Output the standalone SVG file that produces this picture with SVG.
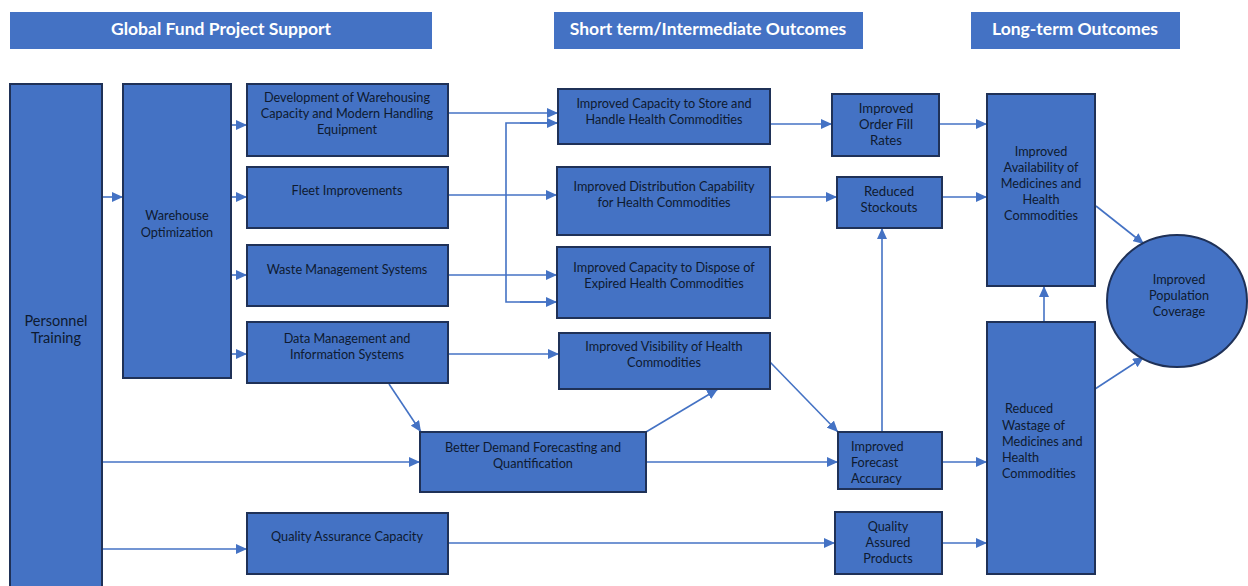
<svg xmlns="http://www.w3.org/2000/svg" width="1248" height="586" viewBox="0 0 1248 586">
<defs>
<marker id="ah" markerUnits="userSpaceOnUse" markerWidth="12" markerHeight="10" refX="11" refY="5" orient="auto">
<path d="M0,0 L11,5 L0,10 Z" fill="#4472C4"/>
</marker>
<style>
.hdr{fill:#4472C4}
.ht{font-family:Lato,"Liberation Sans",sans-serif;font-weight:bold;font-size:17.5px;fill:#fff;text-anchor:middle}
.box{fill:#4472C4;stroke:#1F3157;stroke-width:2}
.t{font-family:Lato,"Liberation Sans",sans-serif;font-size:12.7px;fill:#0E1A30;text-anchor:middle}
.tl{font-family:Lato,"Liberation Sans",sans-serif;font-size:12.7px;fill:#0E1A30}
.s{font-size:13.2px}
.big{font-size:14.5px}
.c{stroke:#4472C4;stroke-width:1.6;fill:none;marker-end:url(#ah)}
.cn{stroke:#4472C4;stroke-width:1.6;fill:none}
</style>
</defs>
<rect width="1248" height="586" fill="#fff"/>
<g id="headers">
<rect class="hdr" x="10" y="12" width="422" height="37"/>
<text class="ht" x="221" y="35">Global Fund Project Support</text>
<rect class="hdr" x="554" y="12" width="309" height="37"/>
<text class="ht" x="708" y="35">Short term/Intermediate Outcomes</text>
<rect class="hdr" x="971" y="12" width="209" height="37"/>
<text class="ht" x="1075" y="35">Long-term Outcomes</text>
</g>
<g id="connectors">
<line class="c" x1="102" y1="197" x2="123" y2="197"/>
<line class="c" x1="231" y1="125" x2="247" y2="125"/>
<line class="c" x1="231" y1="197" x2="247" y2="197"/>
<line class="c" x1="231" y1="275" x2="247" y2="275"/>
<line class="c" x1="231" y1="354" x2="247" y2="354"/>
<line class="c" x1="448" y1="113" x2="558" y2="113"/>
<polyline class="cn" points="557,123 506,123 506,302 557,302"/>
<line class="c" x1="520" y1="123" x2="558" y2="123"/>
<line class="c" x1="520" y1="302" x2="557" y2="302"/>
<line class="c" x1="448" y1="195" x2="557" y2="195"/>
<line class="c" x1="448" y1="275" x2="557" y2="275"/>
<line class="c" x1="448" y1="354" x2="559" y2="354"/>
<line class="c" x1="389" y1="384" x2="421" y2="432"/>
<line class="c" x1="102" y1="462" x2="420" y2="462"/>
<line class="c" x1="102" y1="549" x2="247" y2="549"/>
<line class="c" x1="646" y1="432" x2="718" y2="389"/>
<line class="c" x1="770" y1="362" x2="838" y2="432"/>
<line class="c" x1="646" y1="462" x2="838" y2="462"/>
<line class="c" x1="882" y1="432" x2="882" y2="228"/>
<line class="c" x1="448" y1="543" x2="835" y2="543"/>
<line class="c" x1="942" y1="462" x2="987" y2="462"/>
<line class="c" x1="942" y1="543" x2="987" y2="543"/>
<line class="c" x1="770" y1="124" x2="832" y2="124"/>
<line class="c" x1="939" y1="124" x2="987" y2="124"/>
<line class="c" x1="770" y1="197" x2="837" y2="197"/>
<line class="c" x1="942" y1="197" x2="987" y2="197"/>
<line class="c" x1="1044" y1="322" x2="1044" y2="286"/>
<line class="c" x1="1096" y1="206" x2="1144" y2="244"/>
<line class="c" x1="1095" y1="389" x2="1144" y2="357"/>
</g>
<g id="personnel">
<rect class="box" x="10" y="84" width="92" height="510"/>
<text class="t big" x="56" y="326">Personnel</text>
<text class="t big" x="56" y="343">Training</text>
</g>
<g id="warehouse">
<rect class="box" x="123" y="84" width="108" height="294"/>
<text class="t" x="177" y="220">Warehouse</text>
<text class="t" x="177" y="237">Optimization</text>
</g>
<g id="development">
<rect class="box" x="247" y="84" width="201" height="72"/>
<text class="t" x="347" y="102">Development of Warehousing</text>
<text class="t" x="347" y="118">Capacity and Modern Handling</text>
<text class="t" x="347" y="134">Equipment</text>
</g>
<g id="fleet">
<rect class="box" x="247" y="167" width="201" height="61"/>
<text class="t" x="347" y="195">Fleet Improvements</text>
</g>
<g id="waste">
<rect class="box" x="247" y="245" width="201" height="61"/>
<text class="t" x="347" y="274">Waste Management Systems</text>
</g>
<g id="data">
<rect class="box" x="247" y="322" width="201" height="61"/>
<text class="t" x="347" y="343">Data Management and</text>
<text class="t" x="347" y="359">Information Systems</text>
</g>
<g id="qa-capacity">
<rect class="box" x="247" y="513" width="201" height="61"/>
<text class="t" x="347" y="541">Quality Assurance Capacity</text>
</g>
<g id="demand">
<rect class="box" x="420" y="432" width="226" height="60"/>
<text class="t" x="533" y="452">Better Demand Forecasting and</text>
<text class="t" x="533" y="468">Quantification</text>
</g>
<g id="store">
<rect class="box" x="558" y="89" width="212" height="55"/>
<text class="t" x="664" y="108">Improved Capacity to Store and</text>
<text class="t" x="664" y="124">Handle Health Commodities</text>
</g>
<g id="distribution">
<rect class="box" x="557" y="167" width="213" height="68"/>
<text class="t" x="664" y="191">Improved Distribution Capability</text>
<text class="t" x="664" y="207">for Health Commodities</text>
</g>
<g id="dispose">
<rect class="box" x="557" y="247" width="213" height="71"/>
<text class="t" x="664" y="272">Improved Capacity to Dispose of</text>
<text class="t" x="664" y="288">Expired Health Commodities</text>
</g>
<g id="visibility">
<rect class="box" x="559" y="333" width="211" height="56"/>
<text class="t" x="664" y="351">Improved Visibility of Health</text>
<text class="t" x="664" y="367">Commodities</text>
</g>
<g id="orderfill">
<rect class="box" x="832" y="94" width="107" height="62"/>
<text class="t s" x="886" y="113">Improved</text>
<text class="t s" x="886" y="129">Order Fill</text>
<text class="t s" x="886" y="145">Rates</text>
</g>
<g id="stockouts">
<rect class="box" x="837" y="177" width="105" height="51"/>
<text class="t s" x="889" y="196">Reduced</text>
<text class="t s" x="889" y="212">Stockouts</text>
</g>
<g id="forecast">
<rect class="box" x="838" y="432" width="104" height="57"/>
<text class="tl" x="851" y="451">Improved</text>
<text class="tl" x="851" y="467">Forecast</text>
<text class="tl" x="851" y="483">Accuracy</text>
</g>
<g id="qap">
<rect class="box" x="835" y="512" width="107" height="62"/>
<text class="t" x="888" y="531">Quality</text>
<text class="t" x="888" y="547">Assured</text>
<text class="t" x="888" y="563">Products</text>
</g>
<g id="availability">
<rect class="box" x="987" y="94" width="108" height="192"/>
<text class="t" x="1041" y="156">Improved</text>
<text class="t" x="1041" y="172">Availability of</text>
<text class="t" x="1041" y="188">Medicines and</text>
<text class="t" x="1041" y="204">Health</text>
<text class="t" x="1041" y="220">Commodities</text>
</g>
<g id="wastage">
<rect class="box" x="987" y="322" width="108" height="252"/>
<text class="tl" x="1005" y="413">Reduced</text>
<text class="tl" x="1002" y="430">Wastage of</text>
<text class="tl" x="1002" y="446">Medicines and</text>
<text class="tl" x="1002" y="462">Health</text>
<text class="tl" x="1002" y="478">Commodities</text>
</g>
<g id="coverage">
<ellipse class="box" cx="1177" cy="301" rx="70" ry="66"/>
<text class="t" x="1179" y="284">Improved</text>
<text class="t" x="1179" y="300">Population</text>
<text class="t" x="1179" y="316">Coverage</text>
</g>
</svg>
